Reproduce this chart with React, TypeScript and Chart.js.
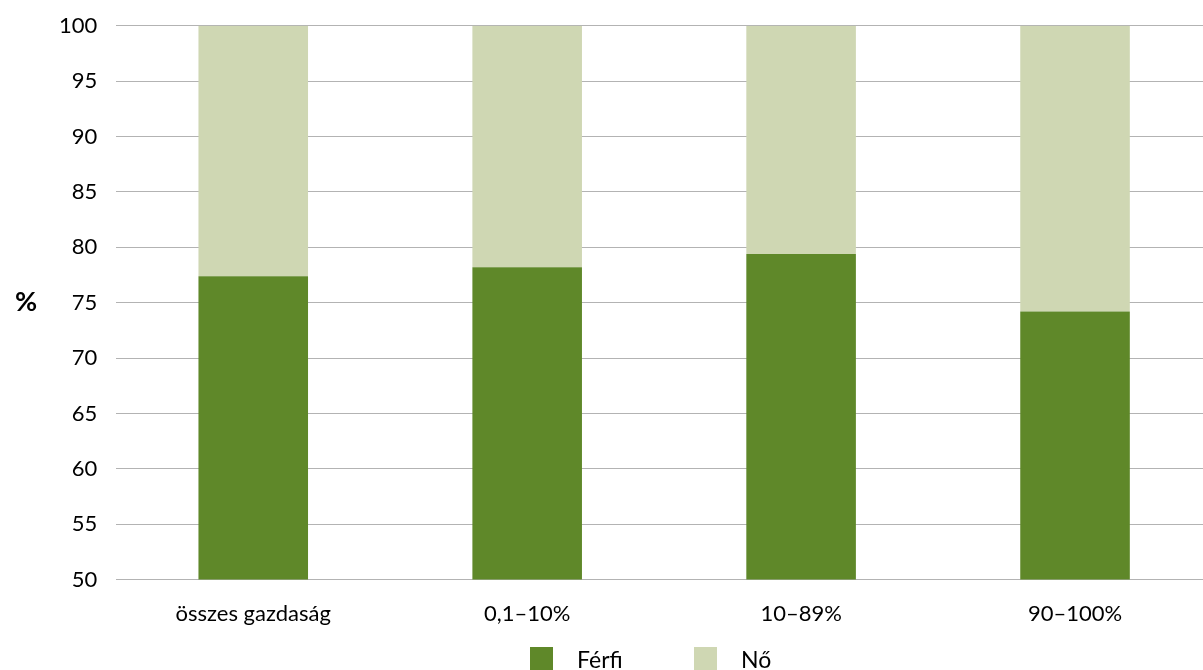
import React, { useEffect, useRef } from "react";
import { Chart, registerables } from "chart.js";

Chart.register(...registerables);

const categories = ["összes gazdaság", "0,1–10%", "10–89%", "90–100%"];
const ferfiValues = [77.4, 78.2, 79.4, 74.2];
const noValues = [22.6, 21.8, 20.6, 25.8];
const seriesNames = ["Férfi", "Nő"];
const axisTitle = "%";

const FONT = "Lato, 'Open Sans', sans-serif";

const extras = {
  id: "extras",
  afterDraw(chart: any) {
    const ctx = chart.ctx;
    const area = chart.chartArea;
    ctx.save();
    ctx.fillStyle = "#000";
    ctx.font = `bold 27px ${FONT}`;
    ctx.textAlign = "center";
    ctx.textBaseline = "middle";
    ctx.fillText(axisTitle, 26, (area.top + area.bottom) / 2);
    const ds = chart.data.datasets;
    const starts = [530, 694];
    ctx.font = `23px ${FONT}`;
    ctx.textAlign = "left";
    ds.forEach((d: any, i: number) => {
      const x = starts[i];
      const y = 647;
      ctx.fillStyle = d.backgroundColor;
      ctx.fillRect(x, y, 23, 23);
      ctx.fillStyle = "#000";
      ctx.textBaseline = "alphabetic";
      ctx.fillText(d.label, x + 47, y + 21);
    });
    ctx.restore();
  },
};

export default function App() {
  const ref = useRef<HTMLCanvasElement | null>(null);

  useEffect(() => {
    document.body.style.margin = "0";
    if (!ref.current) return;
    const chart = new Chart(ref.current, {
      type: "bar",
      data: {
        labels: categories,
        datasets: [
          {
            label: seriesNames[0],
            data: ferfiValues,
            backgroundColor: "#5f8829",
            categoryPercentage: 0.8,
            barPercentage: 0.5,
          },
          {
            label: seriesNames[1],
            data: noValues,
            backgroundColor: "#cfd7b3",
            categoryPercentage: 0.8,
            barPercentage: 0.5,
          },
        ],
      },
      options: {
        responsive: false,
        animation: false,
        layout: { padding: { top: 2, left: 40, right: 0, bottom: 30 } },
        plugins: {
          legend: { display: false },
          tooltip: { enabled: false },
        },
        scales: {
          x: {
            stacked: true,
            grid: { display: false },
            border: { display: true, color: "#b3b3b3" },
            ticks: { color: "#000", font: { family: FONT, size: 22 }, padding: 13 },
          },
          y: {
            stacked: true,
            min: 50,
            max: 100,
            ticks: { stepSize: 5, color: "#000", font: { family: FONT, size: 22, lineHeight: 0.62 }, padding: 19 },
            grid: { color: "#b3b3b3", drawTicks: false },
            border: { display: false },
          },
        },
      },
      plugins: [extras],
    });
    return () => chart.destroy();
  }, []);

  return (
    <div style={{ width: 1203, height: 670, overflow: "hidden" }}>
      <canvas ref={ref} width={1212} height={670} style={{ display: "block" }} />
    </div>
  );
}
